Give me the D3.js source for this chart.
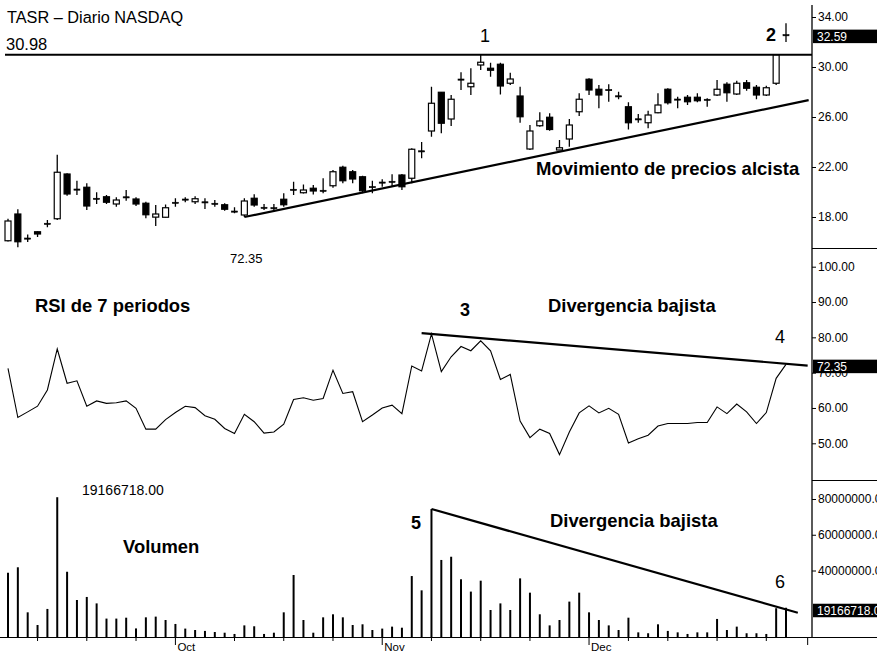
<!DOCTYPE html>
<html>
<head>
<meta charset="utf-8">
<script src="https://cdn.jsdelivr.net/npm/d3@7"></script>
<style>
  body { margin: 0; background: #fff; }
  svg { display: block; font-family: "Liberation Sans", Arial, sans-serif; }
</style>
</head>
<body>
<div id="chart"></div>
<script>
/*******************************/
/*           The data          */
/*******************************/
const priceOpen = [16.1, 18.24, 16.3, 16.82, 17.48, 17.86, 21.44, 20.22, 20.38, 19.48,
  19.62, 19.04, 19.6, 19.44, 19.1, 17.99, 17.98, 19.16, 19.42, 19.22,
  19.2, 19.08, 18.98, 18.46, 18.16, 19.5, 18.76, 18.73, 19.42, 20.2,
  19.94, 20.3, 20.1, 20.5, 21.98, 21.62, 21.22, 20.4, 20.76, 20.8,
  21.36, 21.1, 23.26, 24.88, 27.98, 25.84, 29.0, 28.42, 30.16, 29.9,
  30.22, 28.7, 27.68, 23.44, 25.3, 25.98, 23.36, 24.24, 26.42, 29.02,
  28.22, 28.16, 27.7, 26.82, 25.82, 25.54, 26.34, 28.22, 27.42, 27.58,
  27.58, 27.42, 27.76, 28.62, 27.84, 28.74, 28.38, 27.76, 28.7, 32.55];
const priceHigh = [17.86, 18.62, 16.6, 16.85, 17.76, 22.98, 21.5, 20.9, 20.7, 19.98,
  19.76, 19.58, 20.16, 19.58, 19.22, 18.96, 19.0, 19.5, 19.58, 19.66,
  19.5, 19.36, 19.1, 18.78, 19.5, 19.82, 19.04, 19.04, 19.9, 20.82,
  20.6, 20.56, 21.1, 21.76, 22.1, 21.76, 21.3, 20.9, 21.02, 21.42,
  21.44, 23.5, 24.0, 28.42, 28.0, 27.76, 29.58, 29.9, 30.98, 30.34,
  30.34, 29.54, 28.42, 25.36, 26.38, 26.3, 24.16, 25.84, 27.9, 29.1,
  28.56, 28.62, 28.02, 27.18, 26.24, 26.5, 27.9, 28.3, 27.62, 27.76,
  27.9, 27.5, 28.96, 28.78, 28.9, 28.96, 28.56, 28.5, 31.0, 33.5];
const priceLow = [16.05, 15.58, 16.0, 16.4, 17.18, 17.76, 19.7, 19.76, 18.56, 19.04,
  19.04, 18.82, 19.3, 18.88, 17.9, 17.28, 17.96, 18.82, 19.18, 19.04,
  18.64, 18.82, 18.5, 18.3, 18.0, 18.82, 18.56, 18.42, 18.82, 19.76,
  19.88, 19.8, 19.9, 20.34, 20.7, 20.7, 19.9, 19.9, 20.42, 20.42,
  20.16, 20.7, 22.7, 24.42, 24.7, 25.28, 28.16, 27.76, 29.76, 29.22,
  27.8, 28.56, 25.54, 23.36, 25.22, 24.9, 23.36, 23.62, 26.08, 27.76,
  26.7, 27.22, 27.42, 25.0, 25.54, 25.1, 26.3, 27.0, 26.7, 26.96,
  27.18, 26.82, 27.68, 27.22, 27.76, 28.1, 27.42, 27.68, 28.56, 32.0];
const priceClose = [17.68, 16.02, 16.32, 16.64, 17.5, 21.58, 19.84, 20.24, 18.88, 19.5,
  19.18, 19.36, 19.62, 19.04, 18.18, 18.24, 18.74, 19.18, 19.44, 19.46,
  19.22, 19.1, 18.62, 18.48, 19.28, 18.96, 18.78, 18.75, 18.98, 20.22,
  20.16, 20.08, 20.14, 21.62, 20.9, 21.04, 20.1, 20.44, 20.8, 20.86,
  20.42, 23.42, 23.3, 27.1, 25.5, 27.42, 29.04, 28.7, 30.38, 29.74,
  28.48, 29.04, 26.02, 24.88, 25.68, 25.0, 23.54, 25.36, 27.42, 28.16,
  27.76, 28.2, 27.68, 25.54, 25.86, 26.16, 26.96, 27.14, 27.44, 27.22,
  27.3, 27.4, 28.22, 27.94, 28.7, 28.3, 27.76, 28.34, 30.98, 32.59];

const rsiValues = [71.2, 57.3, 58.9, 60.5, 65.1, 76.7, 67.0, 67.7, 60.5, 62.0,
  61.3, 61.5, 62.0, 59.9, 54.0, 54.0, 56.7, 58.7, 60.5, 60.1,
  57.8, 56.8, 54.2, 52.8, 58.2, 56.1, 52.9, 53.2, 55.4, 62.4,
  62.9, 62.2, 62.7, 70.7, 64.1, 64.6, 56.1, 58.0, 60.0, 60.8,
  58.4, 71.9, 70.5, 81.0, 70.3, 74.5, 77.4, 76.2, 79.0, 76.2,
  68.1, 69.5, 56.3, 51.6, 54.0, 52.8, 46.8, 53.2, 58.6, 60.6,
  58.6, 59.9, 58.2, 50.1, 51.3, 52.3, 54.9, 55.6, 55.6, 55.6,
  55.9, 55.9, 60.3, 58.4, 61.1, 58.9, 55.6, 58.7, 68.4, 72.35];

// Volume in millions of shares
const volumeValues = [38.8, 41.8, 16.6, 9.5, 18.5, 81.0, 39.3, 23.5, 25.2, 21.6,
  13.1, 13.1, 13.6, 7.6, 13.8, 14.2, 12.3, 10.1, 7.5, 6.7,
  6.2, 5.6, 5.2, 4.5, 9.3, 8.8, 4.5, 5.2, 16.6, 37.5,
  12.3, 5.2, 13.8, 15.5, 13.8, 9.5, 9.9, 6.7, 7.5, 8.6,
  8.0, 36.9, 28.9, 74.4, 45.9, 47.7, 35.1, 28.2, 34.3, 17.9,
  21.6, 17.9, 35.6, 27.6, 15.5, 9.3, 12.3, 22.6, 27.6, 16.6,
  12.3, 9.3, 6.7, 13.6, 5.4, 4.9, 9.9, 6.2, 5.4, 4.5,
  5.4, 5.4, 12.9, 6.7, 8.6, 4.9, 4.9, 4.5, 18.9, 19.166718];

const priceTicks = [18, 22, 26, 30, 34];
const rsiTicks = [50, 60, 70, 80, 90, 100];
const volumeTicks = [40, 60, 80];

const weekBars = [3, 8, 13, 23, 28, 33, 43, 48, 53, 63, 67, 72, 77];
const monthBars = [17, 38, 59, 81.2];
const monthLabels = ["Oct", "Nov", "Dec", ""];

const resistanceLevel = 30.98;
const lastPrice = 32.59;
const lastRsi = 72.35;
const lastVolume = 19.166718;

// Trend lines as [bar, value] pairs
const priceTrend = [[24, 18.0], [81.3, 27.35]];
const rsiTrend = [[42, 81.2], [81.2, 72.0]];
const volumeTrend = [[43, 74.4], [80.2, 16.4]];


/*******************************/
/*    Declare the constants    */
/*******************************/
const width = 877;
const height = 653;
const axisX = 812;
const bottomY = 637;
const bodyWidth = 6;
const fontFamily = "'Liberation Sans', Arial, sans-serif";

const svg = d3.select("#chart")
  .append("svg")
    .attr("width", width)
    .attr("height", height);


/****************************/
/*    Declare the scales    */
/****************************/
const xScale = d3.scaleLinear()
  .domain([0, 79])
  .range([8, 786]);

const yPrice = d3.scaleLinear()
  .domain([18, 34])
  .range([217, 17]);

const yRsi = d3.scaleLinear()
  .domain([50, 100])
  .range([443.3, 266.7]);

const yVolume = d3.scaleLinear()
  .domain([0, 80])
  .range([642, 499]);


/**************************/
/*      Add the axes      */
/**************************/
const styleAxis = g => {
  g.attr("font-size", 12).attr("font-family", fontFamily);
  g.select(".domain").remove();
  g.selectAll(".tick line").attr("stroke", "#000");
  g.selectAll(".tick text").attr("fill", "#000");
};

svg.append("g")
    .attr("transform", `translate(${axisX}, 0)`)
    .call(d3.axisRight(yPrice).tickValues(priceTicks).tickFormat(d3.format(".2f")).tickSize(4).tickPadding(2))
    .call(styleAxis);

svg.append("g")
    .attr("transform", `translate(${axisX}, 0)`)
    .call(d3.axisRight(yRsi).tickValues(rsiTicks).tickFormat(d3.format(".2f")).tickSize(4).tickPadding(2))
    .call(styleAxis);

svg.append("g")
    .attr("transform", `translate(${axisX}, 0)`)
    .call(d3.axisRight(yVolume).tickValues(volumeTicks).tickFormat(d => d3.format(".2f")(d * 1e6)).tickSize(4).tickPadding(2))
    .call(styleAxis);

// Right axis line and panel separators
svg.append("line")
    .attr("x1", axisX).attr("x2", axisX)
    .attr("y1", 5).attr("y2", bottomY)
    .attr("stroke", "#000").attr("stroke-width", 1.3);
[248.5, 480.5].forEach(y => {
  svg.append("line")
      .attr("x1", axisX).attr("x2", width)
      .attr("y1", y).attr("y2", y)
      .attr("stroke", "#000");
});

// Bottom time axis
svg.append("line")
    .attr("x1", 0).attr("x2", width)
    .attr("y1", bottomY + 0.5).attr("y2", bottomY + 0.5)
    .attr("stroke", "#000");
svg.selectAll(".week-tick")
  .data(weekBars)
  .join("line")
    .attr("x1", d => xScale(d)).attr("x2", d => xScale(d))
    .attr("y1", bottomY).attr("y2", bottomY + 4)
    .attr("stroke", "#000");
svg.selectAll(".month-tick")
  .data(monthBars)
  .join("line")
    .attr("x1", d => xScale(d)).attr("x2", d => xScale(d))
    .attr("y1", bottomY).attr("y2", bottomY + 8)
    .attr("stroke", "#000");
svg.selectAll(".month-label")
  .data(monthBars)
  .join("text")
    .attr("x", d => xScale(d) + 2)
    .attr("y", 651)
    .attr("font-size", 11.5)
    .text((d, i) => monthLabels[i]);


/******************************/
/*      Price candlesticks     */
/******************************/
const candles = svg.append("g")
  .selectAll("g")
  .data(priceOpen.map((o, i) => ({i, o, h: priceHigh[i], l: priceLow[i], c: priceClose[i]})))
  .join("g");

candles.append("line")
    .attr("x1", d => xScale(d.i)).attr("x2", d => xScale(d.i))
    .attr("y1", d => yPrice(d.h)).attr("y2", d => yPrice(d.l))
    .attr("stroke", "#000").attr("stroke-width", 1.3);

candles.append("rect")
    .attr("x", d => xScale(d.i) - bodyWidth / 2)
    .attr("y", d => yPrice(Math.max(d.o, d.c)))
    .attr("width", bodyWidth)
    .attr("height", d => Math.max(1.2, Math.abs(yPrice(d.o) - yPrice(d.c))))
    .attr("fill", d => d.c >= d.o && Math.abs(d.c - d.o) > 0.08 ? "#fff" : "#000")
    .attr("stroke", "#000")
    .attr("stroke-width", d => Math.abs(d.c - d.o) > 0.08 ? 1.2 : 0.6);

// Resistance line and price trend line
svg.append("line")
    .attr("x1", 5).attr("x2", axisX)
    .attr("y1", yPrice(resistanceLevel)).attr("y2", yPrice(resistanceLevel))
    .attr("stroke", "#000").attr("stroke-width", 2);

const trendLine = (yScale) => d3.line().x(d => xScale(d[0])).y(d => yScale(d[1]));

svg.append("path")
    .attr("d", trendLine(yPrice)(priceTrend))
    .attr("fill", "none").attr("stroke", "#000").attr("stroke-width", 2.2);


/**************************/
/*      RSI line          */
/**************************/
svg.append("path")
    .attr("d", d3.line().x((d, i) => xScale(i)).y(d => yRsi(d))(rsiValues))
    .attr("fill", "none").attr("stroke", "#000").attr("stroke-width", 1.1);

svg.append("path")
    .attr("d", trendLine(yRsi)(rsiTrend))
    .attr("fill", "none").attr("stroke", "#000").attr("stroke-width", 2.2);


/**************************/
/*      Volume bars       */
/**************************/
svg.selectAll(".vol-bar")
  .data(volumeValues)
  .join("line")
    .attr("class", "vol-bar")
    .attr("x1", (d, i) => xScale(i)).attr("x2", (d, i) => xScale(i))
    .attr("y1", d => yVolume(d)).attr("y2", bottomY)
    .attr("stroke", "#000").attr("stroke-width", 2);

svg.append("path")
    .attr("d", trendLine(yVolume)(volumeTrend))
    .attr("fill", "none").attr("stroke", "#000").attr("stroke-width", 2.2);


/*******************************/
/*      Last value boxes       */
/*******************************/
const valueBox = (y, label) => {
  svg.append("rect")
      .attr("x", axisX + 1).attr("y", y - 6.5)
      .attr("width", 70).attr("height", 13.5)
      .attr("fill", "#000");
  svg.append("text")
      .attr("x", axisX + 5).attr("y", y + 4.5)
      .attr("font-size", 12)
      .attr("fill", "#fff")
      .text(label);
};
valueBox(yPrice(lastPrice) + 1.5, d3.format(".2f")(lastPrice));
valueBox(yRsi(lastRsi) + 1.8, d3.format(".2f")(lastRsi));
valueBox(yVolume(lastVolume) + 2.5, d3.format(".2f")(lastVolume * 1e6));


/**************************/
/*      Annotations       */
/**************************/
const addText = (x, y, txt, size, weight) => {
  svg.append("text")
      .attr("x", x).attr("y", y)
      .attr("font-size", size)
      .attr("font-weight", weight || "normal")
      .text(txt);
};
addText(7, 23, "TASR \u2013 Diario NASDAQ", 16.3);
addText(6, 50, d3.format(".2f")(resistanceLevel), 16.5);
addText(230, 263, d3.format(".2f")(lastRsi), 13);
addText(82, 495, d3.format(".2f")(lastVolume * 1e6), 14);

addText(536, 175, "Movimiento de precios alcista", 18.5, "bold");
addText(35, 312, "RSI de 7 periodos", 18.4, "bold");
addText(548, 312, "Divergencia bajista", 18.4, "bold");
addText(550, 527, "Divergencia bajista", 18.4, "bold");
addText(123, 553, "Volumen", 18.4, "bold");

addText(480, 42, "1", 18);
addText(766, 41, "2", 18, "bold");
addText(460, 316, "3", 18, "bold");
addText(775, 343, "4", 18);
addText(411, 529, "5", 18, "bold");
addText(775, 588, "6", 18);
</script>
</body>
</html>
